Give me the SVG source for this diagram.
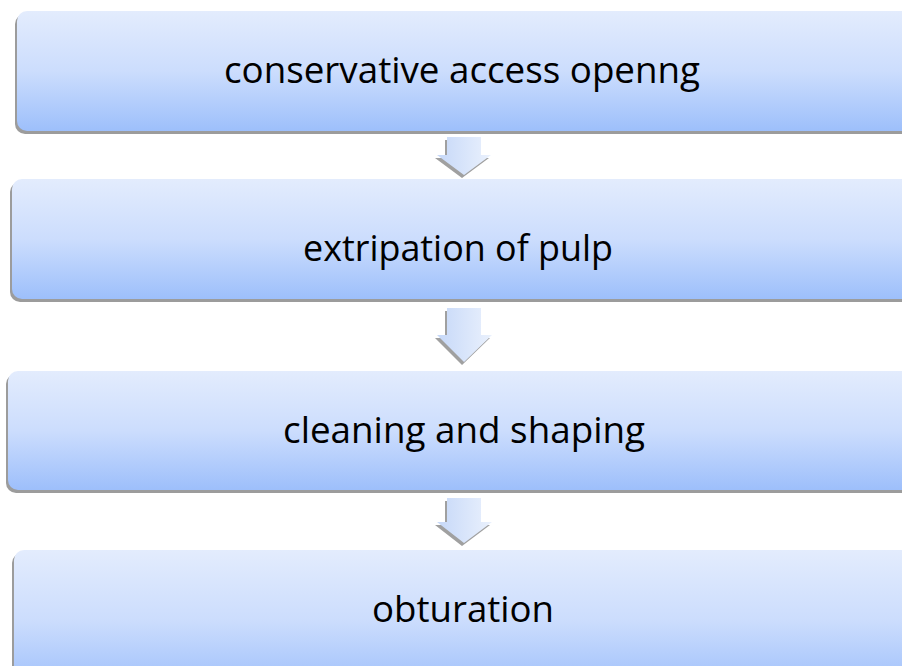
<svg xmlns="http://www.w3.org/2000/svg" width="902" height="666" viewBox="0 0 902 666">
<defs>
<linearGradient id="boxg" x1="0" y1="0" x2="0" y2="1">
<stop offset="0" stop-color="#E3ECFD"/>
<stop offset="0.5" stop-color="#CCDDFD"/>
<stop offset="1" stop-color="#9DBFFB"/>
</linearGradient>
<linearGradient id="arrg" x1="0" y1="0" x2="1" y2="0">
<stop offset="0" stop-color="#C6D8F8"/>
<stop offset="1" stop-color="#EAF1FD"/>
</linearGradient>
</defs>
<style>
.box{fill:url(#boxg);}
.shadow{fill:#9C9C9C;}
.lbl{font-family:"Open Sans","Liberation Sans",sans-serif;font-size:37px;fill:#000;}
.arr{fill:url(#arrg);}
.arrsh{fill:#A0A0A0;}
</style>
<rect width="902" height="666" fill="#FFFFFF"/>
<g id="connectors">
<g id="arrow1">
<polygon class="arrsh" points="445,140 479,140 479,158 489,158 462,178 435,158 445,158"/>
<polygon class="arr" points="447,137 481,137 481,155 491,155 464,175 437,155 447,155"/>
</g>
<g id="arrow2">
<polygon class="arrsh" points="445,311 479,311 479,338 490,338 462,365 435,338 445,338"/>
<polygon class="arr" points="447,308 481,308 481,335 492,335 464,362 437,335 447,335"/>
</g>
<g id="arrow3">
<polygon class="arrsh" points="445,501 479,501 479,525 490,525 462,546 435,525 445,525"/>
<polygon class="arr" points="447,498 481,498 481,522 492,522 464,543 437,522 447,522"/>
</g>
</g>
<g id="node1">
<rect class="shadow" x="15" y="14" width="1000" height="120" rx="10"/>
<rect class="box" x="17" y="11" width="1000" height="120" rx="10"/>
<text class="lbl" x="224" y="83" textLength="476" lengthAdjust="spacingAndGlyphs">conservative access openng</text>
</g>
<g id="node2">
<rect class="shadow" x="10" y="182" width="1000" height="120" rx="10"/>
<rect class="box" x="12" y="179" width="1000" height="120" rx="10"/>
<text class="lbl" x="303" y="261" textLength="310" lengthAdjust="spacingAndGlyphs">extripation of pulp</text>
</g>
<g id="node3">
<rect class="shadow" x="6" y="374" width="1000" height="119" rx="10"/>
<rect class="box" x="8" y="371" width="1000" height="119" rx="10"/>
<text class="lbl" x="283" y="443" textLength="362" lengthAdjust="spacingAndGlyphs">cleaning and shaping</text>
</g>
<g id="node4">
<rect class="shadow" x="12" y="553" width="1000" height="140" rx="10"/>
<rect class="box" x="14" y="550" width="1000" height="140" rx="10"/>
<text class="lbl" x="372" y="622" textLength="182" lengthAdjust="spacingAndGlyphs">obturation</text>
</g>
</svg>
